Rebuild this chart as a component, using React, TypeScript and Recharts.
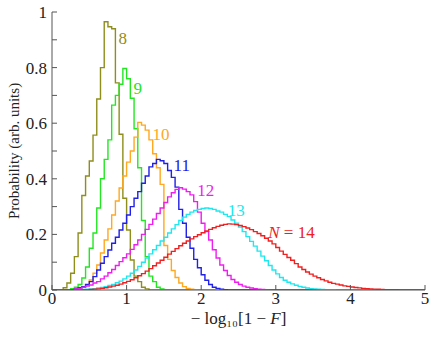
import { LineChart, Line, XAxis, YAxis, ReferenceDot } from 'recharts';

// histogram bins are 0.05 wide on 0..5
const BIN_WIDTH = 0.05;
const N_BINS = 100;

const X_TICKS = [0, 1, 2, 3, 4, 5];
const Y_TICKS = [0, 0.1, 0.2, 0.3, 0.4, 0.5, 0.6, 0.7, 0.8, 0.9, 1];
const Y_LABELS = ['0', '', '0.2', '', '0.4', '', '0.6', '', '0.8', '', '1'];

// each histogram: index of its first non-empty bin, then the bin heights
const n8From = 3;
const n8 = [0.008, 0.025, 0.06, 0.12, 0.205, 0.34, 0.41, 0.464, 0.557, 0.687, 0.8, 0.965, 0.947, 0.94, 0.745, 0.56, 0.33, 0.216, 0.108, 0.05, 0.03, 0.01, 0.004];

const n9From = 5;
const n9 = [0.005, 0.01, 0.02, 0.043, 0.083, 0.15, 0.205, 0.295, 0.4, 0.47, 0.54, 0.665, 0.7, 0.74, 0.797, 0.76, 0.69, 0.58, 0.44, 0.25, 0.12, 0.05, 0.03, 0.01, 0.004];

const n10From = 7;
const n10 = [0.005, 0.01, 0.018, 0.036, 0.06, 0.09, 0.133, 0.18, 0.22, 0.27, 0.32, 0.367, 0.41, 0.46, 0.5, 0.55, 0.603, 0.593, 0.575, 0.54, 0.49, 0.44, 0.38, 0.16, 0.11, 0.07, 0.045, 0.025, 0.012, 0.006, 0.003, 0.001];

const n11From = 6;
const n11 = [0.004, 0.008, 0.012, 0.02, 0.03, 0.048, 0.072, 0.096, 0.12, 0.144, 0.168, 0.19, 0.216, 0.24, 0.27, 0.3, 0.33, 0.354, 0.384, 0.41, 0.443, 0.455, 0.47, 0.465, 0.455, 0.43, 0.405, 0.37, 0.29, 0.24, 0.19, 0.15, 0.11, 0.08, 0.055, 0.035, 0.02, 0.01, 0.006, 0.003, 0.001];

const n12From = 6;
const n12 = [0.004, 0.006, 0.01, 0.014, 0.018, 0.025, 0.03, 0.04, 0.05, 0.062, 0.074, 0.088, 0.102, 0.116, 0.13, 0.146, 0.163, 0.18, 0.2, 0.218, 0.236, 0.255, 0.275, 0.295, 0.315, 0.335, 0.35, 0.362, 0.368, 0.363, 0.354, 0.342, 0.318, 0.28, 0.24, 0.21, 0.18, 0.145, 0.115, 0.09, 0.07, 0.052, 0.038, 0.028, 0.02, 0.014, 0.01, 0.007, 0.005, 0.003, 0.002, 0.001];

const n13From = 8;
const n13 = [0.002, 0.003, 0.004, 0.005, 0.007, 0.009, 0.012, 0.016, 0.02, 0.026, 0.032, 0.04, 0.05, 0.06, 0.072, 0.085, 0.1, 0.115, 0.13, 0.145, 0.16, 0.176, 0.19, 0.205, 0.22, 0.235, 0.25, 0.262, 0.272, 0.28, 0.286, 0.29, 0.293, 0.295, 0.293, 0.29, 0.284, 0.28, 0.272, 0.264, 0.252, 0.24, 0.226, 0.21, 0.192, 0.175, 0.158, 0.14, 0.122, 0.105, 0.088, 0.072, 0.058, 0.045, 0.035, 0.028, 0.022, 0.017, 0.013, 0.01, 0.007, 0.005, 0.004, 0.003, 0.002, 0.0015, 0.001, 0.001, 0.0005, 0.0005];

const n14From = 10;
const n14 = [0.002, 0.003, 0.004, 0.006, 0.008, 0.011, 0.014, 0.017, 0.021, 0.026, 0.031, 0.037, 0.044, 0.051, 0.059, 0.068, 0.077, 0.087, 0.097, 0.107, 0.118, 0.129, 0.139, 0.149, 0.159, 0.168, 0.176, 0.184, 0.192, 0.199, 0.206, 0.212, 0.218, 0.224, 0.229, 0.233, 0.236, 0.238, 0.237, 0.235, 0.232, 0.228, 0.223, 0.217, 0.21, 0.203, 0.195, 0.186, 0.176, 0.166, 0.153, 0.14, 0.128, 0.117, 0.107, 0.095, 0.083, 0.074, 0.065, 0.057, 0.05, 0.044, 0.038, 0.033, 0.028, 0.024, 0.021, 0.018, 0.015, 0.013, 0.011, 0.009, 0.0075, 0.006, 0.005, 0.004, 0.003, 0.0025, 0.002, 0.0015, 0.0012, 0.001, 0.0008, 0.0006, 0.0005, 0.0004, 0.0003, 0.0002, 0.0002, 0.0001];

const SERIES = [
  { key: 'n8', from: n8From, values: n8, color: '#8e8e1c', label: '8', lx: 0.95, ly: 0.905 },
  { key: 'n9', from: n9From, values: n9, color: '#22e622', label: '9', lx: 1.15, ly: 0.725 },
  { key: 'n10', from: n10From, values: n10, color: '#ffa820', label: '10', lx: 1.46, ly: 0.56 },
  { key: 'n11', from: n11From, values: n11, color: '#2020e8', label: '11', lx: 1.74, ly: 0.447 },
  { key: 'n12', from: n12From, values: n12, color: '#ee1eee', label: '12', lx: 2.06, ly: 0.357 },
  { key: 'n13', from: n13From, values: n13, color: '#1ee8ee', label: '13', lx: 2.47, ly: 0.285 },
  { key: 'n14', from: n14From, values: n14, color: '#f02020', label: 'N = 14', lx: 3.21, ly: 0.207 },
];

const rows = Array.from({ length: N_BINS + 1 }, (_, i) => {
  const row: Record<string, number> = { x: Number((i * BIN_WIDTH).toFixed(2)) };
  const bin = Math.min(i, N_BINS - 1);
  for (const s of SERIES) {
    const j = bin - s.from;
    row[s.key] = j >= 0 && j < s.values.length ? s.values[j] : 0;
  }
  return row;
});

const FONT = '"Liberation Serif", "DejaVu Serif", serif';
const AXIS = '#555';

const XTitle = (props: any) => {
  const vb = props.viewBox || {};
  const cx = vb.x + vb.width / 2;
  return (
    <text x={cx} y={vb.y + 34} textAnchor="middle" fontFamily={FONT} fontSize={17} fill="#222">
      − log₁₀[1 − <tspan fontStyle="italic">F</tspan>]
    </text>
  );
};

const YTitle = (props: any) => {
  const vb = props.viewBox || {};
  const cy = vb.y + vb.height / 2;
  return (
    <text x={14} y={cy} transform={`rotate(-90 14 ${cy})`} textAnchor="middle" dominantBaseline="central" fontFamily={FONT} fontSize={15} fill="#222">
      Probability (arb. units)
    </text>
  );
};

const seriesLabel = (text: string, color: string) => (props: any) => {
  const vb = props.viewBox || {};
  const italicN = text.startsWith('N');
  return (
    <text x={vb.x} y={vb.y} textAnchor="middle" dominantBaseline="central" fontFamily={FONT} fontSize={17} fill={color}>
      {italicN ? (
        <>
          <tspan fontStyle="italic">N</tspan>
          {text.slice(1)}
        </>
      ) : (
        text
      )}
    </text>
  );
};

export default function App() {
  return (
    <div style={{ position: 'absolute', left: 0, top: 0, width: 436, height: 337, background: '#fff' }}>
      <LineChart width={436} height={337} data={rows} margin={{ top: 12, right: 11, left: 0, bottom: 0 }}>
        <XAxis
          dataKey="x"
          type="number"
          domain={[0, 5]}
          ticks={X_TICKS}
          allowDataOverflow
          height={47}
          tickSize={-5}
          tickMargin={7}
          stroke={AXIS}
          tick={{ fill: '#222', fontSize: 17, fontFamily: FONT }}
          label={{ content: XTitle }}
        />
        <XAxis
          xAxisId="top"
          orientation="top"
          type="number"
          domain={[0, 5]}
          ticks={X_TICKS}
          allowDataOverflow
          height={0}
          tickSize={-5}
          tick={false}
          stroke={AXIS}
        />
        <YAxis
          type="number"
          domain={[0, 1]}
          ticks={Y_TICKS}
          allowDataOverflow
          width={52}
          tickSize={-5}
          tickMargin={10}
          stroke={AXIS}
          tickFormatter={(v: number) => Y_LABELS[Y_TICKS.indexOf(v)] ?? ''}
          tick={{ fill: '#222', fontSize: 17, fontFamily: FONT }}
          label={{ content: YTitle }}
        />
        <YAxis
          yAxisId="right"
          orientation="right"
          type="number"
          domain={[0, 1]}
          ticks={Y_TICKS}
          allowDataOverflow
          width={0}
          tickSize={-5}
          tick={false}
          stroke={AXIS}
        />
        {SERIES.map((s) => (
          <Line
            key={s.key}
            type="stepAfter"
            dataKey={s.key}
            stroke={s.color}
            strokeWidth={1.4}
            dot={false}
            activeDot={false}
            isAnimationActive={false}
          />
        ))}
        {SERIES.map((s) => (
          <ReferenceDot
            key={`lbl-${s.key}`}
            x={s.lx}
            y={s.ly}
            r={0}
            fill="none"
            stroke="none"
            label={{ content: seriesLabel(s.label, s.color) }}
          />
        ))}
      </LineChart>
    </div>
  );
}
